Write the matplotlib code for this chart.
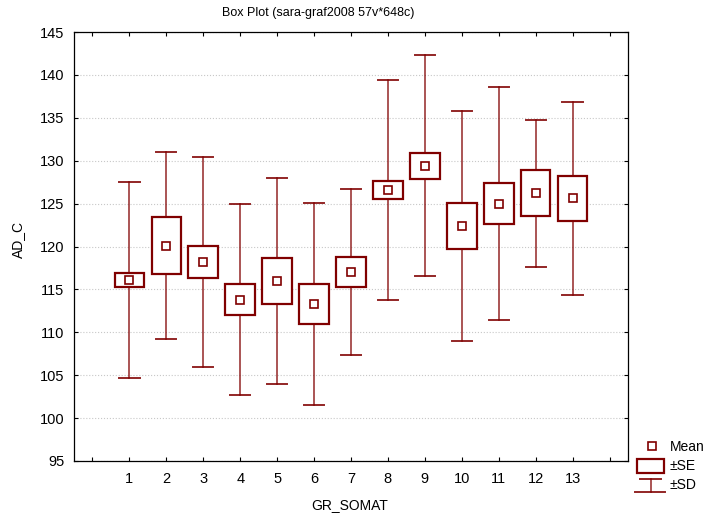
import numpy as np
import matplotlib.pyplot as plt
from matplotlib.patches import Rectangle
from matplotlib.lines import Line2D

plt.rcParams['font.family'] = ['Liberation Sans', 'DejaVu Sans']

# ---- data ----
groups = np.arange(1, 14)
means = [116.1, 120.1, 118.2, 113.8, 116.0, 113.3, 117.0, 126.6, 129.4, 122.4, 125.0, 126.2, 125.6]
se = [0.84, 3.29, 1.89, 1.79, 2.66, 2.31, 1.73, 1.01, 1.54, 2.64, 2.39, 2.70, 2.64]
sd = [11.39, 10.93, 12.26, 11.13, 11.97, 11.72, 9.68, 12.82, 12.88, 13.45, 13.56, 8.60, 11.27]
yticks = [95, 100, 105, 110, 115, 120, 125, 130, 135, 140, 145]

col = '#800000'
W, H = 707, 515
fig = plt.figure(figsize=(W / 100, H / 100), dpi=100)
ax = fig.add_axes([74 / W, 1 - 461 / H, (628 - 74) / W, (461 - 32) / H])

box_w = 0.8
cap_w = 0.55
for g, m, s, d in zip(groups, means, se, sd):
    # whisker (±SD)
    ax.plot([g, g], [m + s, m + d], color=col, lw=1.1, alpha=0.85, zorder=2)
    ax.plot([g, g], [m - d, m - s], color=col, lw=1.1, alpha=0.85, zorder=2)
    ax.plot([g - cap_w / 2, g + cap_w / 2], [m + d, m + d], color=col, lw=1.4, alpha=0.85, zorder=2)
    ax.plot([g - cap_w / 2, g + cap_w / 2], [m - d, m - d], color=col, lw=1.4, alpha=0.85, zorder=2)
    # box (±SE)
    ax.add_patch(Rectangle((g - box_w / 2, m - s), box_w, 2 * s, facecolor='white',
                           edgecolor=col, lw=1.6, zorder=3))
ax.plot(groups, means, ls='none', marker='s', ms=5.5, mfc='white', mec=col, mew=1.2, zorder=4)

ax.set_xlim(-0.5, 14.5)
ax.set_ylim(95, 145)
ax.set_xticks(range(0, 15))
ax.set_xticklabels([''] + [str(g) for g in groups] + [''])
ax.set_yticks(yticks)
ax.tick_params(direction='in', length=3, width=0.8, top=True, right=True, labelsize=10.5, colors='black')
ax.tick_params(axis='x', pad=8)
ax.tick_params(axis='y', pad=7)
ax.grid(axis='y', color='#c8c8c8', lw=0.8, ls=':')
ax.set_axisbelow(True)
for sp in ax.spines.values():
    sp.set_linewidth(0.9)

fig.text(318 / W, 1 - 13 / H, 'Box Plot (sara-graf2008 57v*648c)', ha='center', va='center', fontsize=9)
fig.text(350 / W, 1 - 505 / H, 'GR_SOMAT', ha='center', va='center', fontsize=10)
fig.text(18 / W, 1 - 240 / H, 'AD_C', ha='center', va='center', rotation=90, fontsize=10)

# legend glyphs (figure coords)
def fx(x):
    return x / W

def fy(y):
    return 1 - y / H

fig.add_artist(Line2D([fx(652)], [fy(446)], marker='s', ms=5.5, mfc='white', mec=col, mew=1.2, ls='none'))
fig.text(fx(670), fy(447), 'Mean', va='center', fontsize=10)
fig.add_artist(Rectangle((fx(637), fy(473)), fx(664) - fx(637), fy(459) - fy(473),
                         facecolor='white', edgecolor=col, lw=1.6, transform=fig.transFigure))
fig.text(fx(670), fy(466), '±SE', va='center', fontsize=10)
fig.add_artist(Line2D([fx(640), fx(661)], [fy(479), fy(479)], color=col, lw=1.4, alpha=0.85))
fig.add_artist(Line2D([fx(651), fx(651)], [fy(479), fy(492)], color=col, lw=1.1, alpha=0.85))
fig.add_artist(Line2D([fx(635), fx(665)], [fy(492), fy(492)], color=col, lw=1.4, alpha=0.85))
fig.text(fx(670), fy(485), '±SD', va='center', fontsize=10)

fig.savefig('out.png', dpi=100)
